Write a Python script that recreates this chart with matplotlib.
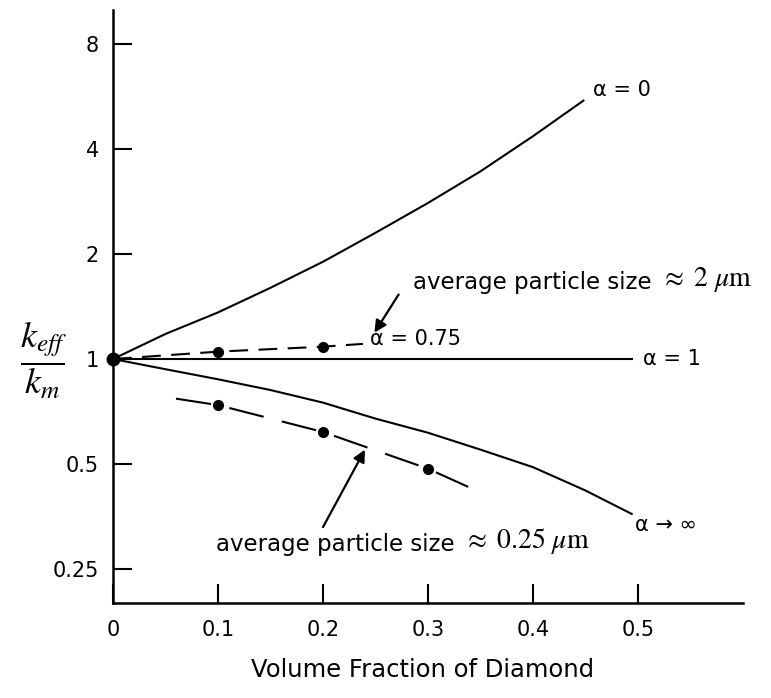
import numpy as np
import matplotlib
matplotlib.use('Agg')
import matplotlib.pyplot as plt

plt.rcParams['font.family'] = ['DejaVu Sans']
plt.rcParams['mathtext.fontset'] = 'stix'

# curves (x = volume fraction, y = k_eff/k_m)
x_a0 = [0, 0.05, 0.1, 0.15, 0.2, 0.25, 0.3, 0.35, 0.4, 0.448]
y_a0 = [1, 1.18, 1.36, 1.6, 1.9, 2.3, 2.8, 3.45, 4.35, 5.5]

x_a1 = [0, 0.494]
y_a1 = [1, 1]

x_ainf = [0, 0.05, 0.1, 0.15, 0.2, 0.25, 0.3, 0.35, 0.4, 0.45, 0.494]
y_ainf = [1, 0.935, 0.875, 0.815, 0.75, 0.675, 0.615, 0.55, 0.49, 0.42, 0.36]

x_a075 = [0, 0.1, 0.2, 0.238]
y_a075 = [1, 1.05, 1.085, 1.105]
pts_2um_x = [0.1, 0.2]
pts_2um_y = [1.05, 1.085]

x_small = [0.06, 0.1, 0.2, 0.3, 0.346]
y_small = [0.77, 0.738, 0.618, 0.485, 0.42]
pts_small_x = [0.1, 0.2, 0.3]
pts_small_y = [0.738, 0.618, 0.485]

yticks = [0.25, 0.5, 1, 2, 4, 8]
ytick_labels = ['0.25', '0.5', '1', '2', '4', '8']
xticks = [0, 0.1, 0.2, 0.3, 0.4, 0.5]
xtick_labels = ['0', '0.1', '0.2', '0.3', '0.4', '0.5']

fig = plt.figure(figsize=(7.71, 6.98), dpi=100)
ax = fig.add_axes([113/771, 1-603/698, 630/771, 593/698])
ax.set_yscale('log')
ax.set_xlim(0, 0.6)
ax.set_ylim(0.2, 10)

lw = 1.5
ax.plot(x_a0, y_a0, color='black', lw=lw)
ax.plot(x_a1, y_a1, color='black', lw=lw)
ax.plot(x_ainf, y_ainf, color='black', lw=lw)
ax.plot(x_a075, y_a075, color='black', lw=lw, dashes=(9, 5))
ax.plot(pts_2um_x, pts_2um_y, 'o', color='black', ms=7)
ax.plot(x_small, y_small, color='black', lw=lw, dashes=(17, 9))
ax.plot(pts_small_x, pts_small_y, 'o', color='black', ms=7)
ax.plot([0], [1], 'o', color='black', ms=9, clip_on=False, zorder=5)

# curve labels
ax.text(0.457, 5.9, 'α = 0', fontsize=15, va='center', ha='left')
ax.text(0.505, 1.0, 'α = 1', fontsize=15, va='center', ha='left')
ax.text(0.245, 1.14, 'α = 0.75', fontsize=15, va='center', ha='left')
ax.text(0.497, 0.335, 'α → ∞', fontsize=15, va='center', ha='left')

# annotations: sans text followed by a larger math part
arrow = dict(arrowstyle='-|>', color='black', lw=1.6, shrinkA=0, shrinkB=0, mutation_scale=18)

t1 = ax.text(0.286, 1.66, 'average particle size', fontsize=16.5, va='center', ha='left')
ax.annotate(r'$\approx\ 2\ \mu\mathrm{m}$', xy=(1, 0), xycoords=t1, xytext=(6, 0),
            textcoords='offset points', fontsize=20, va='bottom', ha='left')
ax.annotate('', xy=(0.249, 1.19), xytext=(0.272, 1.53), arrowprops=arrow)

t2 = ax.text(0.098, 0.295, 'average particle size', fontsize=16.5, va='center', ha='left')
ax.annotate(r'$\approx\ 0.25\ \mu\mathrm{m}$', xy=(1, 0), xycoords=t2, xytext=(6, 0),
            textcoords='offset points', fontsize=20, va='bottom', ha='left')
ax.annotate('', xy=(0.24, 0.55), xytext=(0.2, 0.33), arrowprops=arrow)

ax.set_yticks(yticks)
ax.set_yticklabels(ytick_labels)
ax.yaxis.set_minor_locator(matplotlib.ticker.NullLocator())
ax.set_xticks(xticks)
ax.set_xticklabels(xtick_labels)
ax.tick_params(direction='in', length=14, width=1.5, labelsize=15, pad=10)
ax.tick_params(axis='x', pad=12)

ax.spines['top'].set_visible(False)
ax.spines['right'].set_visible(False)
ax.spines['left'].set_linewidth(1.8)
ax.spines['bottom'].set_linewidth(1.8)

fig.text(44/771, 1-360/698, r'$\dfrac{k_{eff}}{k_m}$', fontsize=26, ha='center', va='center')
fig.text(423/771, 1-670/698, 'Volume Fraction of Diamond', fontsize=17.5, ha='center', va='center')

fig.savefig('out.png', dpi=100)
